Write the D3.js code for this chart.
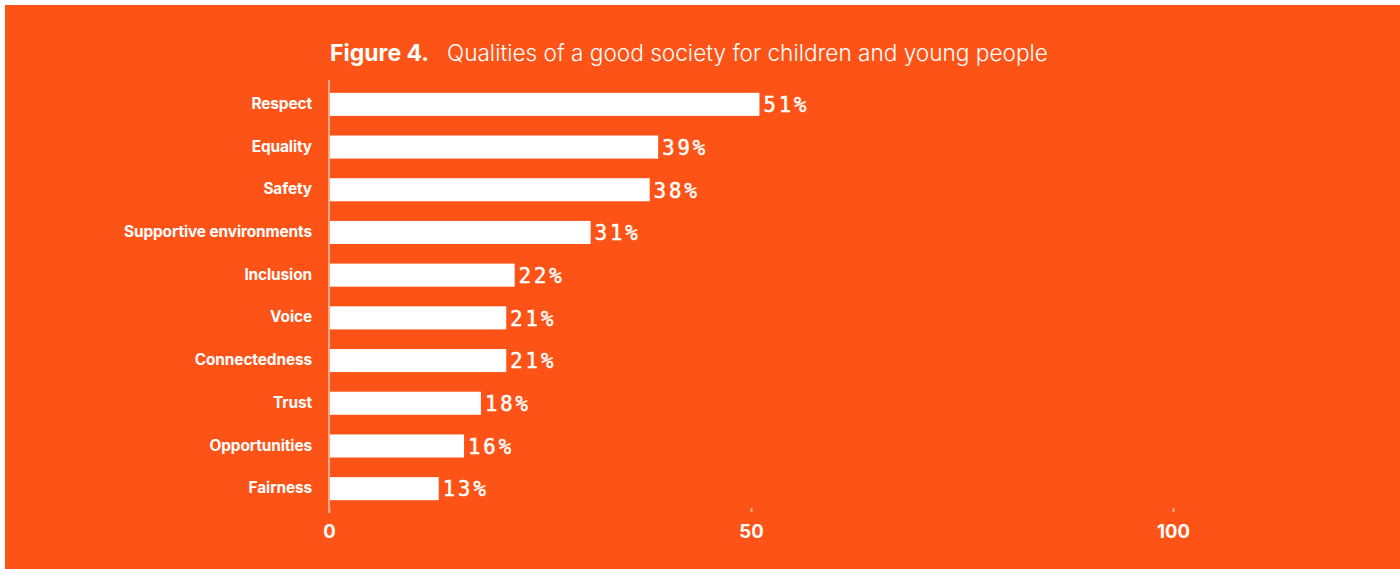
<!DOCTYPE html>
<html><head><meta charset="utf-8">
<script src="https://cdn.jsdelivr.net/npm/d3@7"></script>
<style>
html,body{margin:0;padding:0;background:#fff;}
svg{display:block;}
</style></head>
<body>
<svg id="chart" width="1400" height="569"></svg>
<script>
const categories = ["Respect","Equality","Safety","Supportive environments","Inclusion","Voice","Connectedness","Trust","Opportunities","Fairness"];
const values = [51,39,38,31,22,21,21,18,16,13];
const tickValues = [0,50,100];
const titleBold = "Figure 4.";
const titleText = "Qualities of a good society for children and young people";

const svg = d3.select("#chart");
const bg = "#fe5316";
svg.append("rect").attr("x",5).attr("y",5).attr("width",1395).attr("height",564).attr("fill",bg);

const x = d3.scaleLinear().domain([0,100]).range([329,1173]);
const y = d3.scaleBand().domain(categories).range([83,510]).paddingInner(0.46).paddingOuter(0.23);

const sans = "Inter, Roboto, 'Liberation Sans', sans-serif";

// axis line
svg.append("line").attr("x1",329).attr("x2",329).attr("y1",80).attr("y2",513)
  .attr("stroke","#ffab8a").attr("stroke-width",2);

// bars
svg.selectAll("rect.bar").data(values).join("rect").attr("class","bar")
  .attr("x",x(0)+1).attr("y",(d,i)=>y(categories[i]))
  .attr("width",d=>x(d)-x(0)-1).attr("height",y.bandwidth()).attr("fill","#fff");

// value labels
svg.selectAll("text.val").data(values).join("text").attr("class","val")
  .attr("x",d=>x(d)+4).attr("y",(d,i)=>y(categories[i])+y.bandwidth()/2)
  .attr("dy","0.38em").attr("fill","#fff").attr("stroke","#fff").attr("stroke-width",0.5)
  .style("font-family","'DejaVu Sans Mono', monospace").style("font-size","20.5px")
  .style("letter-spacing","3px")
  .text(d=>d+"%");

// category labels
svg.selectAll("text.cat").data(categories).join("text").attr("class","cat")
  .attr("x",312).attr("y",d=>y(d)+y.bandwidth()/2).attr("dy","0.3em")
  .attr("text-anchor","end").attr("fill","#fff")
  .style("font-family",sans).style("font-weight","700").style("font-size","15.4px")
  .style("letter-spacing","-0.1px")
  .text(d=>d);

// x axis
const axis = d3.axisBottom(x).tickValues(tickValues).tickSize(4).tickPadding(13).tickFormat(d3.format("d"));
const g = svg.append("g").attr("transform","translate(0,508)").call(axis);
g.select(".domain").remove();
g.selectAll(".tick line").attr("stroke","#ffab8a").attr("stroke-width",2);
g.selectAll(".tick text").attr("fill","#fff").style("font-family",sans)
  .style("font-weight","700").style("font-size","18.5px");

// title
const t = svg.append("text").attr("x",330).attr("y",61).attr("fill","#fff")
  .style("font-family",sans);
t.append("tspan").style("font-weight","700").style("font-size","23px").text(titleBold);
t.append("tspan").attr("x",447).style("font-weight","300").style("font-size","22.6px").text(titleText);
</script>
</body></html>
